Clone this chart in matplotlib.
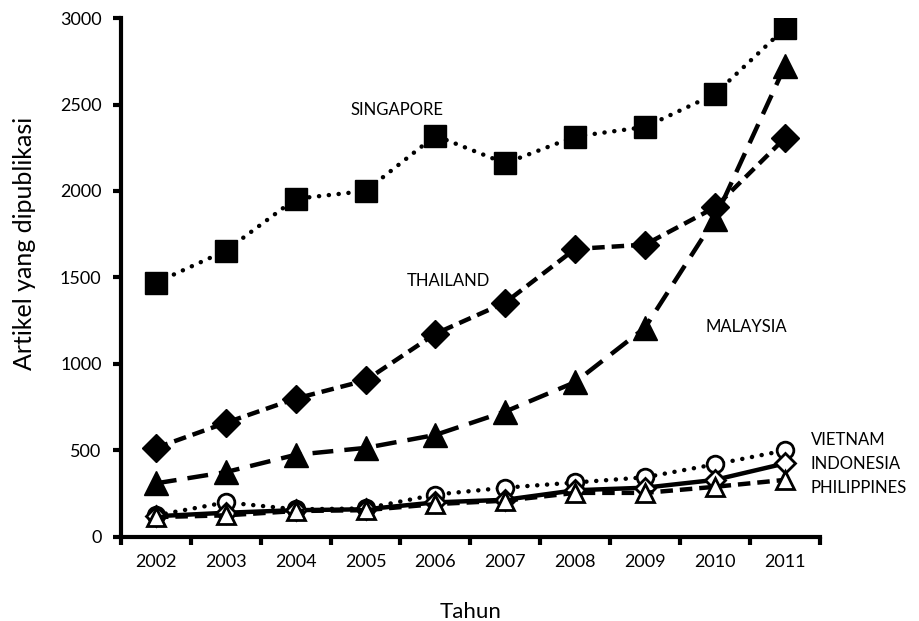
import matplotlib
matplotlib.use("Agg")
import matplotlib.pyplot as plt

plt.rcParams['font.family'] = ['Lato', 'DejaVu Sans']
plt.rcParams['lines.scale_dashes'] = False

years = ['2002', '2003', '2004', '2005', '2006', '2007', '2008', '2009', '2010', '2011']
singapore = [1470, 1655, 1955, 2000, 2320, 2160, 2315, 2370, 2560, 2940]
thailand = [515, 660, 800, 905, 1175, 1355, 1665, 1690, 1905, 2305]
malaysia = [310, 375, 475, 515, 590, 725, 895, 1210, 1840, 2720]
vietnam = [125, 200, 160, 165, 245, 285, 315, 345, 420, 500]
indonesia = [120, 140, 155, 160, 200, 215, 270, 285, 330, 425]
philippines = [115, 125, 150, 155, 190, 210, 255, 255, 290, 330]

fig = plt.figure(figsize=(9.2, 6.21), dpi=100)
ax = fig.add_axes([0.1315, 0.1353, 0.891 - 0.1315, 0.971 - 0.1353])
x = list(range(len(years)))

lw = 3.2
ax.plot(x, singapore, color='black', lw=lw, dashes=(0.1, 7), dash_capstyle='round',
        marker='s', ms=16, mfc='black', mec='black', zorder=3)
ax.plot(x, thailand, color='black', lw=lw, dashes=(9, 5), dash_capstyle='butt',
        marker='D', ms=14, mfc='black', mec='black', zorder=3)
ax.plot(x, malaysia, color='black', lw=lw, dashes=(15, 8), dash_capstyle='butt',
        marker='^', ms=17, mfc='black', mec='black', zorder=3)
ax.plot(x, vietnam, color='black', lw=lw, dashes=(0.1, 7), dash_capstyle='round',
        marker='o', ms=12, mfc='white', mec='black', mew=2, zorder=4)
ax.plot(x, indonesia, color='black', lw=lw, linestyle='-',
        marker='D', ms=10, mfc='white', mec='black', mew=2, zorder=4)
ax.plot(x, philippines, color='black', lw=lw, dashes=(9, 5), dash_capstyle='butt',
        marker='^', ms=13, mfc='white', mec='black', mew=2, zorder=4)

ax.set_xlim(-0.5, 9.5)
ax.set_ylim(0, 3000)
ax.set_yticks([0, 500, 1000, 1500, 2000, 2500, 3000])
ax.set_xticks(x)
ax.set_xticklabels(years)
ax.set_xticks([i + 0.5 for i in range(-1, 10)], minor=True)
ax.tick_params(axis='x', which='major', length=0, pad=12, labelsize=13)
ax.tick_params(axis='x', which='minor', length=6, width=3, direction='out')
ax.tick_params(axis='y', length=6, width=3, direction='out', labelsize=13, pad=8)

for s in ['top', 'right']:
    ax.spines[s].set_visible(False)
for s in ['left', 'bottom']:
    ax.spines[s].set_linewidth(3)

ax.set_ylabel('Artikel yang dipublikasi', fontsize=18)
ax.yaxis.set_label_coords(-0.122, 0.566)
ax.set_xlabel('Tahun', fontsize=16)
ax.xaxis.label.set_va('baseline')
ax.xaxis.set_label_coords(0.5, -0.156)

ax.text(3.45, 2470, 'SINGAPORE', fontsize=12, ha='center', va='center')
ax.text(4.19, 1480, 'THAILAND', fontsize=12, ha='center', va='center')
ax.text(7.87, 1214, 'MALAYSIA', fontsize=12, ha='left', va='center')
ax.text(9.37, 561, 'VIETNAM', fontsize=12, ha='left', va='center', clip_on=False)
ax.text(9.37, 422, 'INDONESIA', fontsize=12, ha='left', va='center', clip_on=False)
ax.text(9.37, 283, 'PHILIPPINES', fontsize=12, ha='left', va='center', clip_on=False)

fig.savefig('out.png', dpi=100)
